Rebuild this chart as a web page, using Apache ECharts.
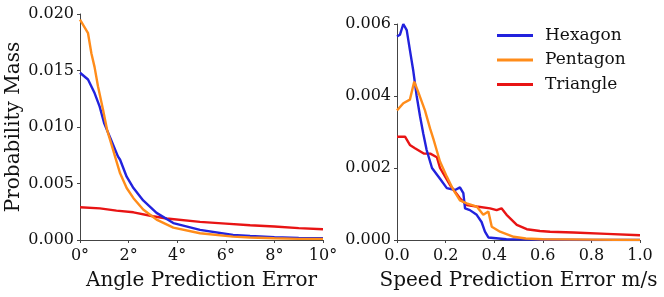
<!DOCTYPE html>
<html><head><meta charset="utf-8">
<script src="https://cdn.jsdelivr.net/npm/echarts@6/dist/echarts.min.js"></script>
<style>html,body{margin:0;padding:0;background:#fff}#c{width:664px;height:297px}</style>
</head><body><div id="c"></div>
<script>
// Angle prediction error (degrees)
const angleHexX = [0,0.05,0.33,0.6,0.81,1.0,1.29,1.56,1.65,1.92,2.2,2.6,3.15,3.84,4.94,6.3,7.0,8,9,10];
const angleHex  = [0.0148,0.0149,0.0142,0.0130,0.0118,0.0103,0.0088,0.0074,0.0071,0.0056,0.0046,0.0035,0.0024,0.0015,0.0009,0.00044,0.00035,0.00025,0.00018,0.00015];
const anglePentX = [0,0.05,0.33,0.47,0.6,0.74,0.95,1.12,1.36,1.44,1.65,1.92,2.2,2.6,3.15,3.84,4.94,6.3,7.0,8,9,10];
const anglePent  = [0.0195,0.0196,0.0183,0.0165,0.0153,0.0136,0.0115,0.0097,0.0080,0.0074,0.0059,0.0046,0.0037,0.0027,0.0018,0.0011,0.0006,0.0003,0.00022,0.00015,0.0001,0.0001];
const angleTriX = [0,0.82,1.5,2.2,3.0,3.57,4.94,6.0,7.0,8.0,9.0,10.0];
const angleTri  = [0.0029,0.0028,0.0026,0.00245,0.0021,0.0019,0.0016,0.00145,0.0013,0.0012,0.00105,0.00095];

// Speed prediction error (m/s)
const speedHexX = [0,0.012,0.026,0.04,0.053,0.067,0.081,0.095,0.108,0.122,0.144,0.177,0.205,0.239,0.259,0.273,0.28,0.3,0.328,0.348,0.362,0.376,0.45,0.6,0.8,1.0];
const speedHex  = [0.00565,0.0057,0.0060,0.00583,0.00528,0.0047,0.0040,0.00343,0.00296,0.0025,0.0020,0.0017,0.00144,0.00139,0.00146,0.0013,0.00088,0.00083,0.0007,0.0005,0.00023,0.00007,0.00002,0.00001,0,0];
const speedPentX = [0,0.026,0.053,0.071,0.088,0.115,0.136,0.15,0.163,0.177,0.205,0.232,0.259,0.287,0.328,0.355,0.376,0.39,0.424,0.48,0.53,0.6,0.8,1.0];
const speedPent  = [0.0036,0.0038,0.0039,0.0044,0.0041,0.0036,0.0031,0.0028,0.0025,0.00218,0.00176,0.00139,0.0011,0.00102,0.00093,0.0007,0.00079,0.00037,0.00023,0.00009,0.00004,0.00002,0.00001,0];
const speedTriX = [0,0.033,0.053,0.074,0.11,0.137,0.164,0.177,0.218,0.259,0.287,0.328,0.383,0.41,0.43,0.451,0.493,0.534,0.588,0.63,0.726,0.863,1.0];
const speedTri  = [0.00287,0.00287,0.00264,0.00255,0.0024,0.0024,0.0023,0.0020,0.00153,0.00116,0.00097,0.00093,0.00088,0.00083,0.00088,0.0007,0.00042,0.0003,0.00025,0.00023,0.00021,0.00017,0.00013];

const angleTicks = [0,2,4,6,8,10];
const speedTicks = [0,0.2,0.4,0.6,0.8,1.0];

const COLORS = {Hexagon:'#2222dd', Pentagon:'#ff8c1a', Triangle:'#e81414'};
const FONT = 'DejaVu Serif';
const zip = (xs, ys) => xs.map((x,i)=>[x,ys[i]]);

const axisCommon = {
  axisLine:{show:true,lineStyle:{color:'#444',width:1}},
  axisTick:{show:true,length:3,lineStyle:{color:'#444'}},
  splitLine:{show:false},
  axisLabel:{fontFamily:FONT,fontSize:16,color:'#111',margin:6},
  nameTextStyle:{fontFamily:FONT,fontSize:20,color:'#111'}
};

function line(name, xi, data){
  return {name, type:'line', xAxisIndex:xi, yAxisIndex:xi, data, showSymbol:false, symbol:'none',
    lineStyle:{width:2.4,color:COLORS[name]}, itemStyle:{color:COLORS[name]}, animation:false, z: name==='Triangle'?1:2};
}

const chart = echarts.init(document.getElementById('c'), null, {renderer:'canvas'});
chart.setOption({
  animation:false,
  grid:[
    {left:80, right:341, top:14, bottom:57},
    {left:397, right:24, top:24, bottom:57}
  ],
  legend:{
    data:['Hexagon','Pentagon','Triangle'], orient:'vertical', left:497, top:27, padding:0,
    itemWidth:36, itemHeight:3, itemGap:7.5, icon:'rect',
    textStyle:{fontFamily:FONT,fontSize:17,color:'#111',padding:[0,0,0,7]}
  },
  xAxis:[
    Object.assign({}, axisCommon, {gridIndex:0,type:'value',min:0,max:10,interval:2,
      name:'Angle Prediction Error',nameLocation:'middle',nameGap:31,
      axisLabel:Object.assign({},axisCommon.axisLabel,{margin:8,formatter:v=>v+'°'})}),
    Object.assign({}, axisCommon, {gridIndex:1,type:'value',min:0,max:1,interval:0.2,
      name:'Speed Prediction Error m/s',nameLocation:'middle',nameGap:31,
      axisLabel:Object.assign({},axisCommon.axisLabel,{margin:8,formatter:v=>v.toFixed(1)})})
  ],
  yAxis:[
    Object.assign({}, axisCommon, {gridIndex:0,type:'value',min:0,max:0.02,interval:0.005,
      name:'Probability Mass',nameLocation:'middle',nameGap:53,
      axisLabel:Object.assign({},axisCommon.axisLabel,{formatter:v=>v.toFixed(3)})}),
    Object.assign({}, axisCommon, {gridIndex:1,type:'value',min:0,max:0.006,interval:0.002,
      axisLabel:Object.assign({},axisCommon.axisLabel,{formatter:v=>v.toFixed(3)})})
  ],
  series:[
    line('Hexagon',0,zip(angleHexX,angleHex)),
    line('Pentagon',0,zip(anglePentX,anglePent)),
    line('Triangle',0,zip(angleTriX,angleTri)),
    line('Hexagon',1,zip(speedHexX,speedHex)),
    line('Pentagon',1,zip(speedPentX,speedPent)),
    line('Triangle',1,zip(speedTriX,speedTri))
  ]
});
</script></body></html>
